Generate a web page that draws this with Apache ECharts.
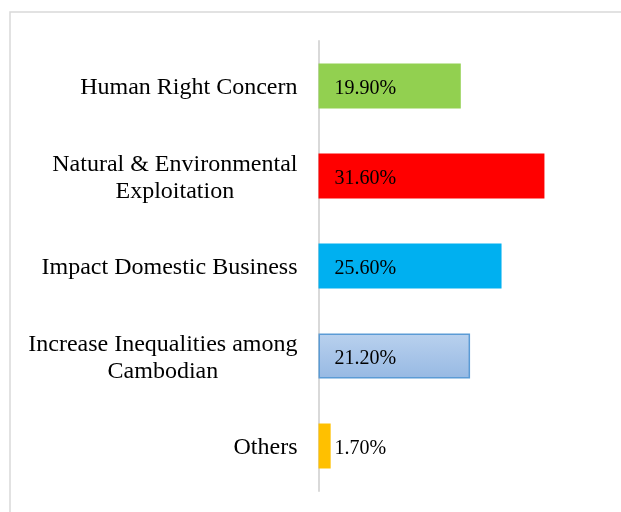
<!DOCTYPE html>
<html>
<head>
<meta charset="utf-8">
<style>
html,body{margin:0;padding:0;background:#fff;}
#chart{width:621px;height:512px;}
</style>
<script src="https://cdn.jsdelivr.net/npm/echarts@6/dist/echarts.min.js"></script>
</head>
<body>
<div id="chart"></div>
<script>
var categories = ['Human Right Concern', 'Natural & Environmental\nExploitation', 'Impact Domestic Business', 'Increase Inequalities among\nCambodian', 'Others'];
var values = [19.9, 31.6, 25.6, 21.2, 1.7];
var valueLabels = ['19.90%', '31.60%', '25.60%', '21.20%', '1.70%'];
var barColors = ['#92D050', '#FF0000', '#00B0F0', 'gradient', '#FFC000'];

var chart = echarts.init(document.getElementById('chart'));
var data = values.map(function (v, i) {
  var item = { value: v };
  if (barColors[i] === 'gradient') {
    item.itemStyle = {
      color: new echarts.graphic.LinearGradient(0, 0, 0, 1, [
        { offset: 0, color: '#B9D1EE' },
        { offset: 1, color: '#97B9E3' }
      ]),
      borderColor: '#5B9BD5',
      borderWidth: 1.5
    };
  } else {
    item.itemStyle = { color: barColors[i] };
  }
  return item;
});
var font = '"Liberation Serif", "Times New Roman", serif';
chart.setOption({
  animation: false,
  backgroundColor: '#fff',
  graphic: [{
    type: 'rect', silent: true, z: -10,
    shape: { x: 10, y: 12, width: 700, height: 600 },
    style: { fill: 'none', stroke: '#d9d9d9', lineWidth: 1.5 }
  }],
  grid: { left: 318.5, top: 41, width: 286, height: 450, containLabel: false },
  xAxis: {
    type: 'value', min: 0, max: 40, show: false
  },
  yAxis: {
    type: 'category', data: categories, inverse: true,
    axisLine: { show: true, lineStyle: { color: '#d9d9d9', width: 2 } },
    axisTick: { show: false },
    axisLabel: {
      margin: 21, align: 'right', color: '#000',
      fontFamily: font, fontSize: 24, lineHeight: 27,
      padding: [4, 0, 0, 0],
      formatter: function (v) {
        return v.split('\n').map(function (s) { return '{c|' + s + '}'; }).join('\n');
      },
      rich: { c: { align: 'center', fontFamily: font, fontSize: 24, lineHeight: 27, color: '#000' } }
    }
  },
  series: [{
    type: 'bar', data: data, barWidth: '50%',
    label: {
      show: true, position: 'insideLeft', distance: 16, offset: [0, 3],
      color: '#000', fontFamily: font, fontSize: 20,
      formatter: function (p) { return valueLabels[p.dataIndex]; }
    }
  }]
});
</script>
</body>
</html>
